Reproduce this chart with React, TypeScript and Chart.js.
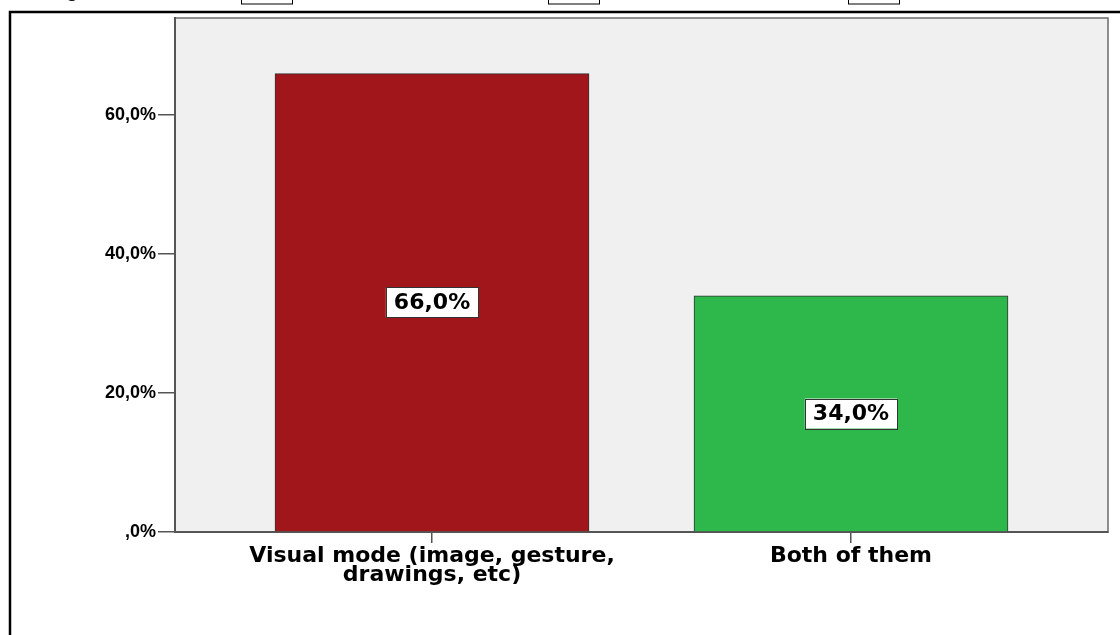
import React, { useEffect, useRef } from "react";
import { Chart, registerables } from "chart.js";

Chart.register(...registerables);

const CATEGORIES: string[][] = [
  ["Visual mode (image, gesture,", "drawings, etc)"],
  ["Both of them"],
];
const VALUES: number[] = [66.0, 34.0];
const BAR_COLORS: string[] = ["#A0161A", "#2EB84C"];
const Y_TICKS: number[] = [0, 20, 40, 60];
const Y_MAX = 74;

const fmtPct = (v: number): string => {
  if (v === 0) return ",0%";
  return v.toFixed(1).replace(".", ",") + "%";
};

const framePlugin = {
  id: "frame",
  beforeDraw(chart: any) {
    const ctx = chart.ctx as CanvasRenderingContext2D;
    const { chartArea } = chart;
    ctx.save();
    ctx.fillStyle = "#ffffff";
    ctx.fillRect(0, 0, chart.width, chart.height);
    // cropped header remnants
    ctx.strokeStyle = "#000";
    ctx.lineWidth = 1;
    [241, 548, 848].forEach((x) => ctx.strokeRect(x + 0.5, -10, 51, 14));
    ctx.fillStyle = "#000";
    ctx.font = "bold 20px 'Liberation Sans', Arial, sans-serif";
    ctx.textBaseline = "alphabetic";
    ctx.fillText("g", 66, -3);
    // outer frame
    ctx.strokeStyle = "#000";
    ctx.lineWidth = 2.5;
    ctx.strokeRect(10, 12, chart.width + 10, chart.height + 10);
    // plot background
    ctx.fillStyle = "#F0F0F0";
    ctx.fillRect(chartArea.left, chartArea.top, chartArea.right - chartArea.left, chartArea.bottom - chartArea.top);
    ctx.strokeStyle = "#6b6b6b";
    ctx.lineWidth = 1.5;
    ctx.strokeRect(chartArea.left, chartArea.top, chartArea.right - chartArea.left, chartArea.bottom - chartArea.top);
    ctx.restore();
  },
};

const labelPlugin = {
  id: "barLabels",
  afterDatasetsDraw(chart: any) {
    const ctx = chart.ctx as CanvasRenderingContext2D;
    const meta = chart.getDatasetMeta(0);
    ctx.save();
    ctx.font = "bold 22px 'DejaVu Sans', sans-serif";
    ctx.textAlign = "center";
    ctx.textBaseline = "middle";
    meta.data.forEach((el: any, i: number) => {
      const text = fmtPct(VALUES[i]);
      const cx = el.x;
      const cy = (el.y + el.base) / 2;
      const w = ctx.measureText(text).width + 16;
      const h = 30;
      ctx.fillStyle = "#ffffff";
      ctx.fillRect(cx - w / 2, cy - h / 2, w, h);
      ctx.strokeStyle = "#333";
      ctx.lineWidth = 1;
      ctx.strokeRect(Math.round(cx - w / 2) + 0.5, Math.round(cy - h / 2) + 0.5, Math.round(w), h);
      ctx.fillStyle = "#000";
      ctx.fillText(text, cx, cy + 1);
    });
    ctx.restore();
  },
};

export default function App() {
  const ref = useRef<HTMLCanvasElement | null>(null);

  useEffect(() => {
    document.body.style.margin = "0";
    if (!ref.current) return;
    const chart = new Chart(ref.current, {
      type: "bar",
      data: {
        datasets: [
          {
            data: VALUES.map((v, i) => ({ x: i, y: v })) as any,
            backgroundColor: BAR_COLORS,
            borderColor: "#333",
            borderWidth: 1,
            barThickness: 314,
          } as any,
        ],
      },
      options: {
        animation: false,
        responsive: true,
        maintainAspectRatio: false,
        layout: { padding: { left: 0, top: 18, right: 12, bottom: 0 } },
        plugins: { legend: { display: false }, tooltip: { enabled: false } },
        scales: {
          x: {
            type: "linear",
            min: -0.6134,
            max: 1.6134,
            offset: false,
            afterBuildTicks: (s: any) => {
              s.ticks = CATEGORIES.map((_, i) => ({ value: i }));
            },
            afterFit: (s: any) => {
              s.height = 103;
            },
            ticks: {
              autoSkip: false,
              maxRotation: 0,
              color: "#000",
              padding: 4,
              font: { family: "'DejaVu Sans', sans-serif", size: 22, weight: "bold", lineHeight: 0.85 },
              callback: (v: any) => CATEGORIES[Number(v)] as any,
            },
            grid: { display: true, offset: false, drawOnChartArea: false, drawTicks: true, tickLength: 11, color: "#555", lineWidth: 1.5 },
            border: { display: true, color: "#555", width: 2 },
          } as any,
          y: {
            min: 0,
            max: Y_MAX,
            afterBuildTicks: (s: any) => {
              s.ticks = Y_TICKS.map((v) => ({ value: v }));
            },
            afterFit: (s: any) => {
              s.width = 175;
            },
            ticks: {
              color: "#000",
              padding: 2,
              font: { family: "'Liberation Sans', Arial, sans-serif", size: 18, weight: "bold" },
              callback: (v: any) => fmtPct(Number(v)),
            },
            grid: { display: true, drawOnChartArea: false, drawTicks: true, tickLength: 17, color: "#555", lineWidth: 1.5 },
            border: { display: true, color: "#555", width: 2 },
          } as any,
        },
      },
      plugins: [framePlugin, labelPlugin],
    });
    return () => chart.destroy();
  }, []);

  return (
    <div style={{ position: "absolute", left: 0, top: 0, width: 1120, height: 635 }}>
      <canvas ref={ref} />
    </div>
  );
}
